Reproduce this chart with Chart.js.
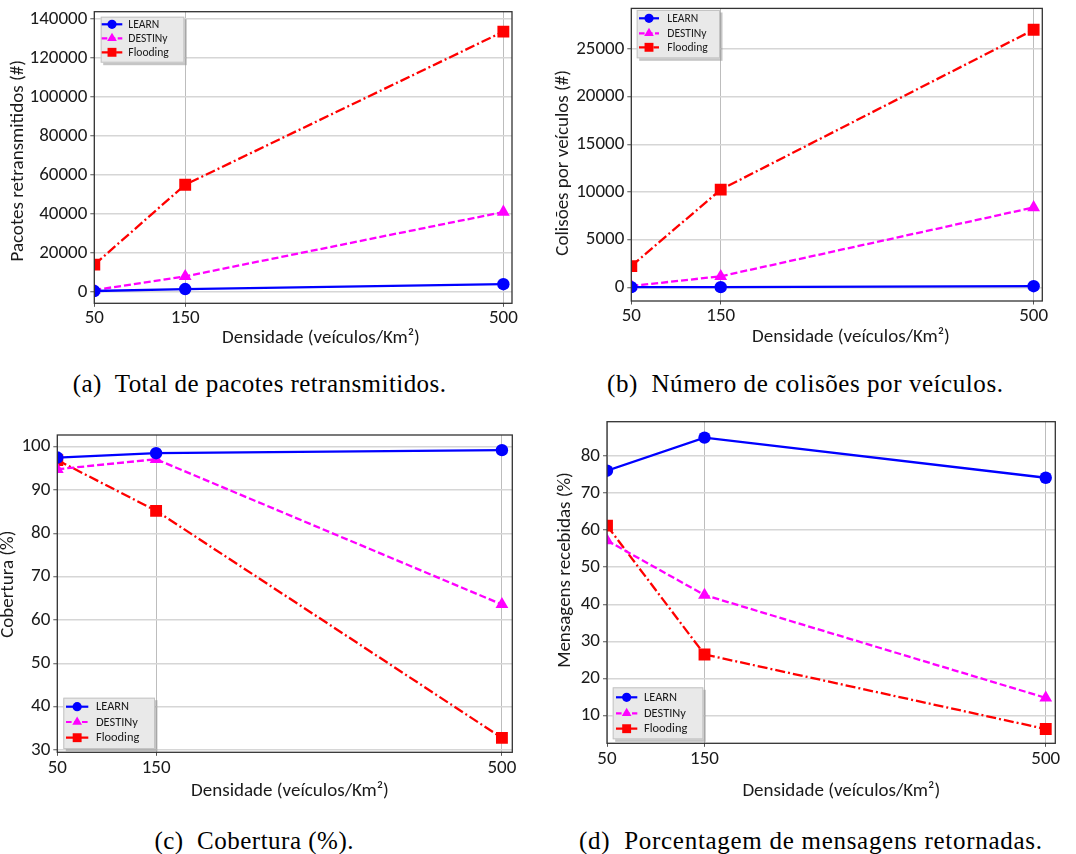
<!DOCTYPE html>
<html>
<head>
<meta charset="utf-8">
<script src="https://cdn.jsdelivr.net/npm/chart.js"></script>
<style>
  html, body { margin:0; padding:0; background:#fff; }
  #wrap { position:relative; width:1076px; height:854px; overflow:hidden; background:#fff; }
  canvas { position:absolute; }
  .cap { position:absolute; font-family:'Liberation Serif', 'Times New Roman', serif; font-size:25px; line-height:25px; color:#000; white-space:pre; }
</style>
</head>
<body>
<div id="wrap">
  <canvas id="cA"></canvas>
  <canvas id="cB"></canvas>
  <canvas id="cC"></canvas>
  <canvas id="cD"></canvas>
  <div class="cap" id="capA">(a)  Total de pacotes retransmitidos.</div>
  <div class="cap" id="capB">(b)  Número de colisões por veículos.</div>
  <div class="cap" id="capC">(c)  Cobertura (%).</div>
  <div class="cap" id="capD">(d)  Porcentagem de mensagens retornadas.</div>
</div>
<script>
// ---------- data ----------
const SERIES_NAMES = ['LEARN', 'DESTINy', 'Flooding'];
const X_VALUES = [50, 150, 500];
const X_TICKS = [50, 150, 500];

// (a) Pacotes retransmitidos (#)
const A_LEARN    = [500, 1500, 4000];
const A_DESTINY  = [1000, 8000, 41000];
const A_FLOODING = [14000, 55000, 133500];
const A_Y_TICKS  = [0, 20000, 40000, 60000, 80000, 100000, 120000, 140000];

// (b) Colisões por veículos (#)
const B_LEARN    = [30, 30, 130];
const B_DESTINY  = [150, 1170, 8380];
const B_FLOODING = [2240, 10250, 27000];
const B_Y_TICKS  = [0, 5000, 10000, 15000, 20000, 25000];

// (c) Cobertura (%)
const C_LEARN    = [97.5, 98.5, 99.2];
const C_DESTINY  = [94.8, 97.1, 63.6];
const C_FLOODING = [96.9, 85.2, 32.8];
const C_Y_TICKS  = [30, 40, 50, 60, 70, 80, 90, 100];

// (d) Mensagens recebidas (%)
const D_LEARN    = [76.0, 84.9, 74.1];
const D_DESTINY  = [57.2, 42.5, 14.8];
const D_FLOODING = [61.2, 26.5, 6.4];
const D_Y_TICKS  = [10, 20, 30, 40, 50, 60, 70, 80];

// ---------- styles ----------
const STYLES = [
  { color:'#0000ff', dash:[],          point:'circle',   r:6.2, lr:4.6 },
  { color:'#ff00ff', dash:[7,3],       point:'triangle', r:7.4, lr:5.6 },
  { color:'#ff0000', dash:[10,3,2,3],  point:'rect',     r:8.4, lr:6.3 }
];
const FONT = 'Carlito, Lato, sans-serif';
const FS = 19;
const TEXT = '#1a1a1a';

const decor = {
  id: 'decor',
  afterDatasetsDraw(chart, args, o) {
    const { ctx, chartArea: a } = chart;
    ctx.save();
    ctx.strokeStyle = '#333';
    ctx.lineWidth = 1.3;
    ctx.strokeRect(a.left, a.top, a.right - a.left, a.bottom - a.top);
    ctx.restore();
  },
  afterDraw(chart, args, o) {
    const ctx = chart.ctx;
    const ox = o.ox, oy = o.oy;
    ctx.save();
    ctx.fillStyle = TEXT;
    ctx.font = FS + 'px ' + FONT;
    ctx.textAlign = 'center';
    ctx.textBaseline = 'alphabetic';
    ctx.fillText(o.xTitle.text, o.xTitle.x - ox, o.xTitle.y - oy);
    ctx.save();
    ctx.translate(o.yTitle.x - ox, o.yTitle.y - oy);
    ctx.rotate(-Math.PI / 2);
    ctx.textAlign = 'center';
    ctx.textBaseline = 'alphabetic';
    ctx.fillText(o.yTitle.text, 0, 0);
    ctx.restore();
    // legend
    const lg = o.legend;
    const x0 = lg.box[0] - ox, y0 = lg.box[1] - oy, x1 = lg.box[2] - ox, y1 = lg.box[3] - oy;
    ctx.fillStyle = 'rgba(150,150,150,0.55)';
    ctx.fillRect(x0 + 2.5, y0 + 2.5, x1 - x0, y1 - y0);
    ctx.fillStyle = '#e9e9e9';
    ctx.fillRect(x0, y0, x1 - x0, y1 - y0);
    ctx.strokeStyle = '#c4c4c4';
    ctx.lineWidth = 1;
    ctx.strokeRect(x0 + 0.5, y0 + 0.5, x1 - x0 - 1, y1 - y0 - 1);
    ctx.font = lg.font + 'px ' + FONT;
    ctx.textAlign = 'left';
    ctx.textBaseline = 'middle';
    SERIES_NAMES.forEach((name, i) => {
      const st = STYLES[i];
      const yy = lg.rows[i] - oy;
      const sx0 = lg.sample[0] - ox, sx1 = lg.sample[1] - ox;
      ctx.strokeStyle = st.color;
      ctx.lineWidth = 2.2;
      ctx.setLineDash(st.dash.map(v => v * 0.8));
      ctx.beginPath(); ctx.moveTo(sx0, yy); ctx.lineTo(sx1, yy); ctx.stroke();
      ctx.setLineDash([]);
      ctx.fillStyle = st.color;
      Chart.helpers.drawPoint(ctx, { pointStyle: st.point, radius: st.lr, rotation: 0, borderWidth: 0 }, (sx0 + sx1) / 2, yy);
      ctx.fillStyle = TEXT;
      ctx.fillText(name, lg.textX - ox, yy + 0.5);
    });
    ctx.restore();
  }
};

function buildChart(cfg) {
  const cv = document.getElementById(cfg.id);
  const [cx, cy, cw, ch] = cfg.box;
  const [L, T, R, B] = cfg.area;
  cv.width = cw; cv.height = ch;
  cv.style.left = cx + 'px'; cv.style.top = cy + 'px';
  cv.style.width = cw + 'px'; cv.style.height = ch + 'px';
  const datasets = SERIES_NAMES.map((name, i) => {
    const st = STYLES[i];
    return {
      label: name,
      data: X_VALUES.map((x, k) => ({ x: x, y: cfg.series[i][k] })),
      borderColor: st.color,
      backgroundColor: st.color,
      borderWidth: 2.3,
      borderDash: st.dash,
      pointStyle: st.point,
      pointRadius: st.r,
      pointBorderWidth: 0,
      pointBackgroundColor: st.color,
      tension: 0,
      fill: false
    };
  });
  new Chart(cv, {
    type: 'line',
    data: { datasets },
    options: {
      responsive: false,
      animation: false,
      devicePixelRatio: 1,
      events: [],
      layout: { padding: { left: 0, top: T - cy, right: cx + cw - R, bottom: 0 } },
      plugins: {
        legend: { display: false },
        tooltip: { enabled: false },
        decor: Object.assign({ ox: cx, oy: cy }, cfg.decor)
      },
      scales: {
        x: {
          type: 'linear',
          min: 50, max: cfg.xMax,
          afterBuildTicks: s => { s.ticks = X_TICKS.map(v => ({ value: v })); },
          afterFit: s => { s.height = cy + ch - B; s.paddingLeft = 0; s.paddingRight = 0; },
          ticks: { callback: v => String(v), autoSkip: false, maxRotation: 0, padding: cfg.xPad,
                   color: TEXT, font: { family: FONT, size: FS } },
          grid: { color: '#bdbdbd', lineWidth: 1, tickColor: '#555', tickLength: 3.5, tickWidth: 1 },
          border: { display: false }
        },
        y: {
          type: 'linear',
          min: cfg.yMin, max: cfg.yMax,
          afterBuildTicks: s => { s.ticks = cfg.yTicks.map(v => ({ value: v })); },
          afterFit: s => { s.width = L - cx; s.paddingTop = 0; s.paddingBottom = 0; },
          ticks: { callback: v => String(v), autoSkip: false, padding: 3,
                   color: TEXT, font: { family: FONT, size: FS } },
          grid: { color: '#d6d6d6', lineWidth: 1.5, tickColor: '#555', tickLength: 4, tickWidth: 1 },
          border: { display: false }
        }
      }
    },
    plugins: [decor]
  });
}

const XT = 'Densidade (veículos/Km²)';

buildChart({
  id: 'cA', box: [0, 0, 540, 360], area: [94.3, 11.7, 512, 303.3],
  series: [A_LEARN, A_DESTINY, A_FLOODING], yTicks: A_Y_TICKS,
  yMin: -5800, yMax: 143700, xMax: 509.5, xPad: 0,
  decor: {
    xTitle: { text: XT, x: 321, y: 342.7 },
    yTitle: { text: 'Pacotes retransmitidos (#)', x: 22.7, y: 160.8 },
    legend: { box: [100.7, 16.7, 184.3, 62.7], rows: [24.3, 38.3, 52.3], sample: [101.7, 122.3], textX: 128.3, font: 11.6 }
  }
});
buildChart({
  id: 'cB', box: [540, 0, 536, 360], area: [631.3, 4.7, 1042.3, 301],
  series: [B_LEARN, B_DESTINY, B_FLOODING], yTicks: B_Y_TICKS,
  yMin: -1420, yMax: 29240, xMax: 509.7, xPad: 0,
  decor: {
    xTitle: { text: XT, x: 851, y: 342.3 },
    yTitle: { text: 'Colisões por veículos (#)', x: 567.7, y: 162.8 },
    legend: { box: [636.7, 10, 720, 58.3], rows: [18.3, 33.3, 47.3], sample: [639, 659], textX: 667.3, font: 11.6 }
  }
});
buildChart({
  id: 'cC', box: [0, 400, 540, 410], area: [57.3, 435, 512.3, 752.3],
  series: [C_LEARN, C_DESTINY, C_FLOODING], yTicks: C_Y_TICKS,
  yMin: 29.47, yMax: 102.7, xMax: 510.5, xPad: 0.8,
  decor: {
    xTitle: { text: XT, x: 290, y: 796 },
    yTitle: { text: 'Cobertura (%)', x: 13.3, y: 584.2 },
    legend: { box: [63.3, 697.7, 155, 749], rows: [706.7, 722, 737.7], sample: [66, 88.3], textX: 96, font: 12.4 }
  }
});
buildChart({
  id: 'cD', box: [540, 400, 536, 410], area: [607, 421.7, 1055.3, 743.3],
  series: [D_LEARN, D_DESTINY, D_FLOODING], yTicks: D_Y_TICKS,
  yMin: 2.56, yMax: 89.2, xMax: 509.8, xPad: 0.8,
  decor: {
    xTitle: { text: XT, x: 841.3, y: 795.7 },
    yTitle: { text: 'Mensagens recebidas (%)', x: 570, y: 570 },
    legend: { box: [612.7, 687.3, 703.3, 739.3], rows: [697.3, 713.3, 728.7], sample: [616, 637.3], textX: 644, font: 12.4 }
  }
});

// captions: [id, left, right, baseline]
const CAPS = [['capA', 72.7, 446, 391.5], ['capB', 607, 1003, 391.5], ['capC', 154.4, 353.5, 848.5], ['capD', 579, 1042, 848.5]];
CAPS.forEach(([id, l, r, base]) => {
  const el = document.getElementById(id);
  const w = el.getBoundingClientRect().width;
  const n = el.textContent.length;
  el.style.left = l + 'px';
  el.style.top = (base - 21) + 'px';
  el.style.letterSpacing = ((r - l - w) / (n - 1)).toFixed(3) + 'px';
});
</script>
</body>
</html>
